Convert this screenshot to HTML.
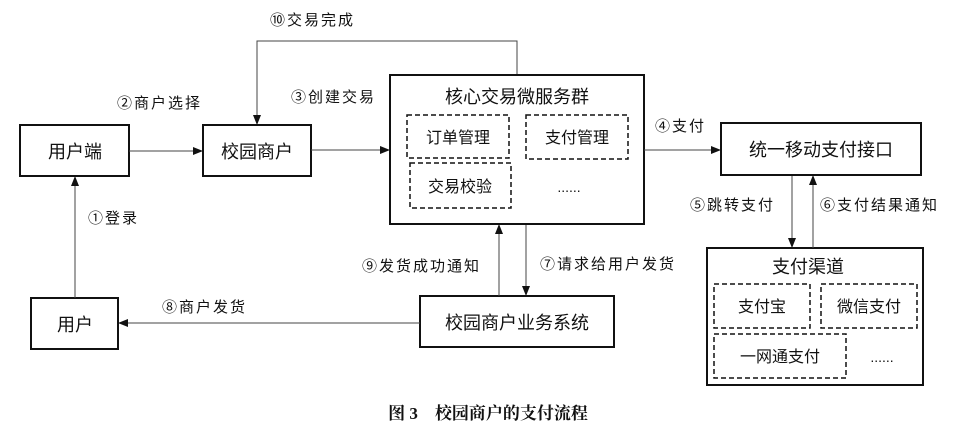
<!DOCTYPE html>
<html><head><meta charset="utf-8"><style>
html,body{margin:0;padding:0;background:#fff;}
svg{display:block;}
text{font-family:"Liberation Sans","Noto Sans CJK SC",sans-serif;fill:#111;}
.l{font-family:"Liberation Serif","Noto Serif CJK SC",serif;font-size:15px;letter-spacing:2px;}
</style></head><body>
<svg width="977" height="433" viewBox="0 0 977 433" xmlns="http://www.w3.org/2000/svg">
<defs><marker id="a" markerWidth="10" markerHeight="8" refX="9" refY="4" orient="auto" markerUnits="userSpaceOnUse"><path d="M0,0 L10,4 L0,8 z" fill="#111"/></marker></defs>
<g fill="none" stroke="#111" stroke-width="2">
<rect x="20" y="125" width="109" height="51"/>
<rect x="203" y="125" width="108" height="51"/>
<rect x="390" y="75" width="254" height="149"/>
<rect x="721" y="123" width="200" height="52"/>
<rect x="707" y="248" width="216" height="137"/>
<rect x="420" y="296" width="194" height="51"/>
<rect x="31" y="298" width="87" height="51"/>
</g>
<g fill="none" stroke="#111" stroke-width="1.5" stroke-dasharray="5,3">
<rect x="407" y="115" width="102" height="43"/>
<rect x="526" y="115" width="102" height="44"/>
<rect x="410" y="163" width="101" height="45"/>
<rect x="714" y="284" width="96" height="44"/>
<rect x="821" y="284" width="96" height="44"/>
<rect x="714" y="334" width="132" height="44"/>
</g>
<g stroke="#444" stroke-width="1" fill="none" marker-end="url(#a)">
<path d="M129 151 L202 151"/>
<path d="M311 150 L389 150"/>
<path d="M517 74 L517 41 L257 41 L257 124"/>
<path d="M644 150 L720 150"/>
<path d="M792 176 L792 247"/>
<path d="M813 248 L813 176"/>
<path d="M526 225 L526 295"/>
<path d="M499 296 L499 225"/>
<path d="M420 323 L119 323"/>
<path d="M75 298 L75 177"/>
</g>
<g font-size="18" text-anchor="middle">
<text x="75" y="158">用户端</text>
<text x="257" y="158">校园商户</text>
<text x="517" y="103">核心交易微服务群</text>
<text x="458" y="143" font-size="16">订单管理</text>
<text x="577" y="143" font-size="16">支付管理</text>
<text x="460" y="192" font-size="16">交易校验</text>
<text x="569" y="192" font-size="14">......</text>
<text x="821" y="156">统一移动支付接口</text>
<text x="808" y="273">支付渠道</text>
<text x="762" y="312" font-size="16">支付宝</text>
<text x="869" y="312" font-size="16">微信支付</text>
<text x="780" y="362" font-size="16">一网通支付</text>
<text x="882" y="362" font-size="14">......</text>
<text x="517" y="329">校园商户业务系统</text>
<text x="75" y="331">用户</text>
</g>
<g class="l">
<text x="270" y="25">⑩交易完成</text>
<text x="117" y="108">②商户选择</text>
<text x="291" y="102">③创建交易</text>
<text x="655" y="131">④支付</text>
<text x="690" y="210">⑤跳转支付</text>
<text x="820" y="210">⑥支付结果通知</text>
<text x="540" y="269">⑦请求给用户发货</text>
<text x="362" y="271">⑨发货成功通知</text>
<text x="162" y="312">⑧商户发货</text>
<text x="88" y="223">①登录</text>
</g>
<text x="488" y="419" text-anchor="middle" font-size="17" font-weight="bold" style="font-family:'Liberation Serif','Noto Serif CJK SC',serif">图 3　校园商户的支付流程</text>
</svg>
</body></html>
